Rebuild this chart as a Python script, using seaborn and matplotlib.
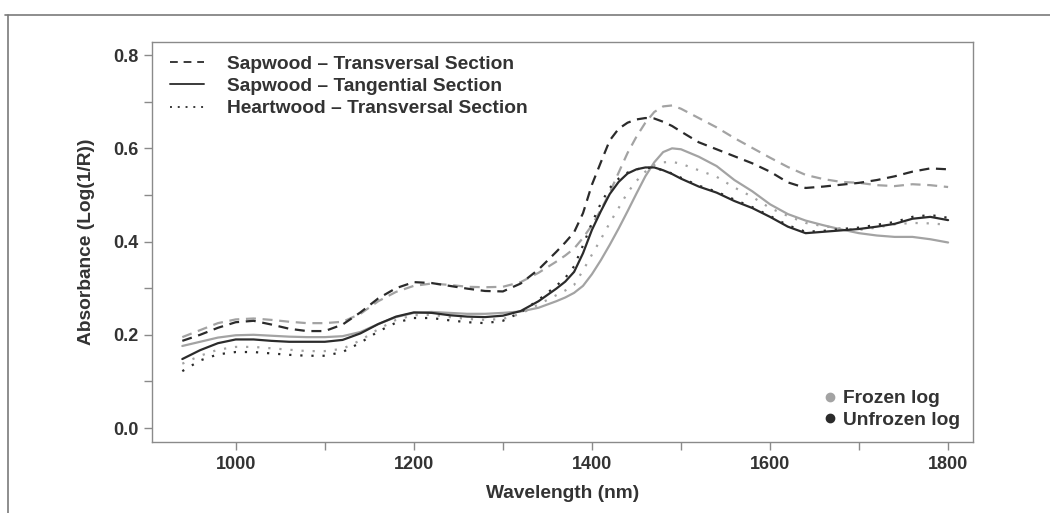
import numpy as np
import pandas as pd
import matplotlib
matplotlib.use("Agg")
import matplotlib.pyplot as plt
from matplotlib.lines import Line2D
import seaborn as sns

# Wavelength grid (nm); finer spacing across the 1400 nm water band
wavelength = [940, 960, 980, 1000, 1020, 1040, 1060, 1080, 1100, 1120, 1140, 1160,
              1180, 1200, 1220, 1240, 1260, 1280, 1300, 1320, 1340, 1360,
              1370, 1380, 1390, 1400, 1410, 1420, 1430, 1440, 1450, 1460, 1470, 1480,
              1490, 1500,
              1520, 1540, 1560, 1580, 1600, 1620, 1640, 1660, 1680, 1700, 1720, 1740,
              1760, 1780, 1800]

# Frozen log spectra
frozen_sap_transversal = [0.195, 0.210, 0.225, 0.233, 0.235, 0.232, 0.228, 0.225, 0.225, 0.228,
                          0.245, 0.272, 0.292, 0.305, 0.310, 0.307, 0.303, 0.302, 0.303, 0.313,
                          0.333, 0.357,
                          0.370, 0.385, 0.408, 0.435, 0.468, 0.505, 0.548, 0.590, 0.625, 0.655,
                          0.678, 0.690, 0.692, 0.685,
                          0.665, 0.645, 0.622, 0.601, 0.580, 0.560, 0.543, 0.534, 0.528, 0.526,
                          0.521, 0.519, 0.523, 0.521, 0.517]
frozen_sap_tangential = [0.176, 0.185, 0.194, 0.199, 0.200, 0.198, 0.196, 0.195, 0.195, 0.197,
                         0.206, 0.223, 0.238, 0.247, 0.249, 0.247, 0.245, 0.245, 0.247, 0.250,
                         0.258, 0.272,
                         0.280, 0.290, 0.305, 0.330, 0.360, 0.393, 0.428, 0.465, 0.503, 0.540,
                         0.570, 0.592, 0.600, 0.598,
                         0.582, 0.562, 0.532, 0.508, 0.480, 0.459, 0.445, 0.435, 0.426, 0.418,
                         0.413, 0.410, 0.410, 0.405, 0.398]
frozen_heart_transversal = [0.138, 0.155, 0.168, 0.174, 0.174, 0.171, 0.168, 0.165, 0.165, 0.170,
                            0.188, 0.212, 0.232, 0.242, 0.243, 0.238, 0.234, 0.232, 0.234, 0.245,
                            0.265, 0.285,
                            0.295, 0.307, 0.338, 0.372, 0.405, 0.440, 0.472, 0.505, 0.530, 0.550,
                            0.564, 0.570, 0.571, 0.567,
                            0.553, 0.539, 0.516, 0.496, 0.472, 0.455, 0.440, 0.433, 0.428, 0.425,
                            0.430, 0.437, 0.440, 0.439, 0.436]

# Unfrozen log spectra
unfrozen_sap_transversal = [0.187, 0.200, 0.215, 0.227, 0.230, 0.222, 0.213, 0.208, 0.208, 0.222,
                            0.248, 0.278, 0.300, 0.313, 0.311, 0.305, 0.299, 0.294, 0.293, 0.310,
                            0.340, 0.378,
                            0.398, 0.420, 0.461, 0.522, 0.570, 0.617, 0.642, 0.655, 0.662, 0.665,
                            0.664, 0.657, 0.648, 0.636,
                            0.613, 0.598, 0.583, 0.568, 0.550, 0.527, 0.515, 0.518, 0.522, 0.526,
                            0.532, 0.540, 0.550, 0.557, 0.555]
unfrozen_sap_tangential = [0.148, 0.167, 0.182, 0.190, 0.190, 0.187, 0.185, 0.185, 0.185, 0.189,
                           0.203, 0.223, 0.239, 0.248, 0.247, 0.242, 0.239, 0.238, 0.241, 0.251,
                           0.272, 0.299,
                           0.314, 0.335, 0.375, 0.425, 0.465, 0.502, 0.528, 0.546, 0.555, 0.559,
                           0.559, 0.553, 0.545, 0.535,
                           0.518, 0.505, 0.487, 0.472, 0.453, 0.432, 0.418, 0.421, 0.424, 0.427,
                           0.432, 0.438, 0.449, 0.453, 0.446]
unfrozen_heart_transversal = [0.122, 0.145, 0.158, 0.163, 0.163, 0.160, 0.157, 0.155, 0.155, 0.163,
                              0.183, 0.207, 0.226, 0.236, 0.236, 0.231, 0.227, 0.225, 0.230, 0.248,
                              0.275, 0.305,
                              0.322, 0.347, 0.392, 0.440, 0.482, 0.515, 0.535, 0.548, 0.555, 0.558,
                              0.558, 0.553, 0.546, 0.537,
                              0.520, 0.507, 0.490, 0.474, 0.455, 0.435, 0.421, 0.423, 0.427, 0.430,
                              0.436, 0.442, 0.453, 0.457, 0.451]

sections = ["Sapwood \u2013 Transversal Section",
            "Sapwood \u2013 Tangential Section",
            "Heartwood \u2013 Transversal Section"]
conditions = ["Frozen log", "Unfrozen log"]

series = {
    ("Frozen log", sections[0]): frozen_sap_transversal,
    ("Frozen log", sections[1]): frozen_sap_tangential,
    ("Frozen log", sections[2]): frozen_heart_transversal,
    ("Unfrozen log", sections[0]): unfrozen_sap_transversal,
    ("Unfrozen log", sections[1]): unfrozen_sap_tangential,
    ("Unfrozen log", sections[2]): unfrozen_heart_transversal,
}

frames = []
for (cond, sec), vals in series.items():
    frames.append(pd.DataFrame({"Wavelength": wavelength, "Absorbance": vals,
                                "Condition": cond, "Section": sec}))
df = pd.concat(frames, ignore_index=True)

sns.set_style("white")
plt.rcParams["font.family"] = ["Liberation Sans", "DejaVu Sans"]
plt.rcParams["font.weight"] = "bold"

TEXT = "#333333"
SPINE = "#8a8a8a"
palette = {"Frozen log": "#a3a3a3", "Unfrozen log": "#2b2b2b"}
dashes = {sections[0]: (4.5, 3.0), sections[1]: "", sections[2]: (1, 4)}

fig = plt.figure(figsize=(10.5, 5.13), dpi=100)
ax = fig.add_axes([0.1448, 0.1384, 0.7819, 0.7796])

sns.lineplot(data=df, x="Wavelength", y="Absorbance", hue="Condition", style="Section",
             palette=palette, dashes=dashes, hue_order=conditions, style_order=sections,
             linewidth=1.6, legend=False, ax=ax, sort=False)

ax.set_xlim(906, 1828)
ax.set_ylim(-0.030, 0.828)
ax.set_xticks([1000, 1200, 1400, 1600, 1800])
ax.set_xticks([1100, 1300, 1500, 1700], minor=True)
ax.set_yticks([0.0, 0.2, 0.4, 0.6, 0.8])
ax.set_yticks([0.1, 0.3, 0.5, 0.7], minor=True)
ax.set_yticklabels(["0.0", "0.2", "0.4", "0.6", "0.8"])

for side in ax.spines.values():
    side.set_color(SPINE)
    side.set_linewidth(1.0)
ax.tick_params(axis="both", which="both", direction="out", length=6, width=1.0,
               color=SPINE, labelcolor=TEXT, labelsize=13, pad=4,
               bottom=True, left=True)

ax.set_xlabel("Wavelength (nm)", fontsize=13.8, color=TEXT, fontweight="bold", labelpad=9)
ax.set_ylabel("Absorbance (Log(1/R))", fontsize=13.8, color=TEXT, fontweight="bold", labelpad=13)

# Line-style legend (sections)
style_handles = [Line2D([0], [0], color="#3a3a3a", lw=1.4, dashes=(4, 3)),
                 Line2D([0], [0], color="#3a3a3a", lw=1.4),
                 Line2D([0], [0], color="#3a3a3a", lw=1.4, dashes=(1, 3))]
leg1 = ax.legend(style_handles, sections, loc="upper left", frameon=False,
                 prop={"size": 13.8, "weight": "bold"}, handlelength=1.8,
                 handletextpad=1.2, labelspacing=0.25, borderaxespad=0.3,
                 bbox_to_anchor=(0.005, 1.0))
for t in leg1.get_texts():
    t.set_color(TEXT)
ax.add_artist(leg1)

# Colour legend (log condition)
color_handles = [Line2D([0], [0], marker="o", linestyle="", markersize=6,
                        markerfacecolor=palette[c], markeredgecolor=palette[c])
                 for c in conditions]
leg2 = ax.legend(color_handles, conditions, loc="lower right", frameon=False,
                 prop={"size": 13.8, "weight": "bold"}, handlelength=0.6,
                 handletextpad=0.35, labelspacing=0.2, borderaxespad=0.3,
                 bbox_to_anchor=(1.0, 0.0))
for t in leg2.get_texts():
    t.set_color(TEXT)

# Outer frame lines along the top and left edges of the figure
fig.add_artist(Line2D([0.005, 1.0], [1 - 15 / 513, 1 - 15 / 513], transform=fig.transFigure,
                      color="#7a7a7a", lw=1.2))
fig.add_artist(Line2D([8 / 1050, 8 / 1050], [0.0, 1 - 15 / 513], transform=fig.transFigure,
                      color="#7a7a7a", lw=1.2))

fig.savefig("out.png", dpi=100)
